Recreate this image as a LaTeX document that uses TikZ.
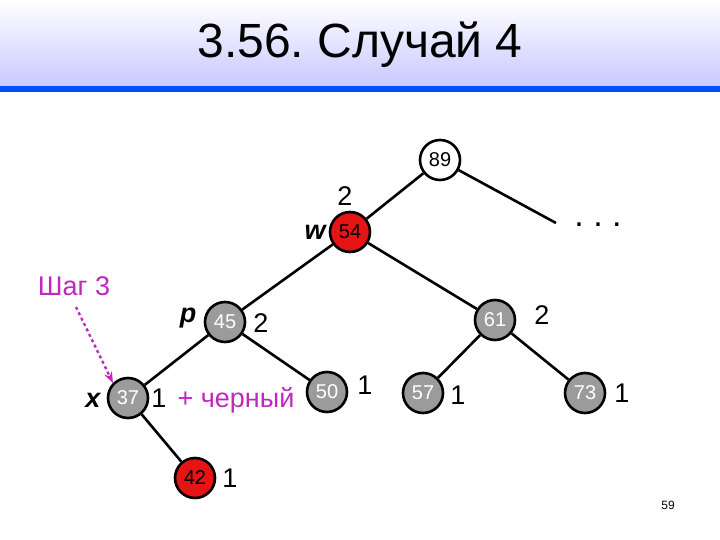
\documentclass[tikz,border=0pt]{standalone}
\usepackage{fontspec}
\setmainfont{Liberation Sans}
\usetikzlibrary{arrows.meta}
\definecolor{mag}{RGB}{190,40,190}
\definecolor{nred}{RGB}{230,20,20}
\begin{document}
\frenchspacing
\begin{tikzpicture}[x=1pt,y=-1pt,
  nd/.style={circle,draw=black,line width=2.6pt,minimum size=40pt,inner sep=0pt,font=\fontsize{20}{20}\selectfont},
  gr/.style={nd,fill=gray!95!black!75,text=white},
  rd/.style={nd,fill=nred,text=black},
  wh/.style={nd,fill=white,text=black},
  lb/.style={font=\fontsize{27}{27}\selectfont},
  lbi/.style={font=\fontsize{27}{27}\selectfont\bfseries\itshape},
  ed/.style={line width=2.6pt}]
\useasboundingbox (0,0) rectangle (720,540);
\shade[top color=white,bottom color=blue!22] (0,0) rectangle (720,88);
\fill[blue!70!cyan] (0,86) rectangle (720,92);
\node[font=\fontsize{48}{48}\selectfont] (title) at (360,45) {3.56. Случай 4};
\node[wh] (n89) at (440,160) {89};
\node[rd] (n54) at (350,232) {54};
\node[font=\fontsize{34}{34}\selectfont] (dots) at (598,225) {. . .};
\coordinate (dd) at (556,223);
\node[gr] (n45) at (225,322) {45};
\node[gr] (n61) at (495,320) {61};
\node[gr] (n37) at (128,398) {37};
\node[gr] (n50) at (327,392) {50};
\node[gr] (n57) at (423,393) {57};
\node[gr] (n73) at (585,393) {73};
\node[rd] (n42) at (195,478) {42};
\draw[ed] (n89)--(dd) (n89)--(n54) (n54)--(n45) (n54)--(n61) (n45)--(n37) (n45)--(n50)
 (n61)--(n57) (n61)--(n73) (n37)--(n42);
\node[lb] (l54) at (345,196) {2};
\node[lbi] (w) at (315,232) {w};
\node[lbi] (p) at (188,318) {p};
\node[lb] (l45) at (261,323) {2};
\node[lb] (l61) at (542,315) {2};
\node[lbi] (x) at (93,400) {x};
\node[lb] (l37) at (159,398) {1};
\node[lb,text=mag] (cher) at (236,400) {+ черный};
\node[lb] (l50) at (365,385) {1};
\node[lb] (l57) at (458,395) {1};
\node[lb] (l73) at (622,393) {1};
\node[lb] (l42) at (230,478) {1};
\node[lb,text=mag] (sh) at (74,286) {Шаг 3};
\draw[mag,line width=2.4pt,dashed,-{Stealth[length=11pt]}] (76,307) -- (n37.north west);
\node[font=\fontsize{12}{12}\selectfont] (pg) at (668,505) {59};
\end{tikzpicture}
\end{document}
